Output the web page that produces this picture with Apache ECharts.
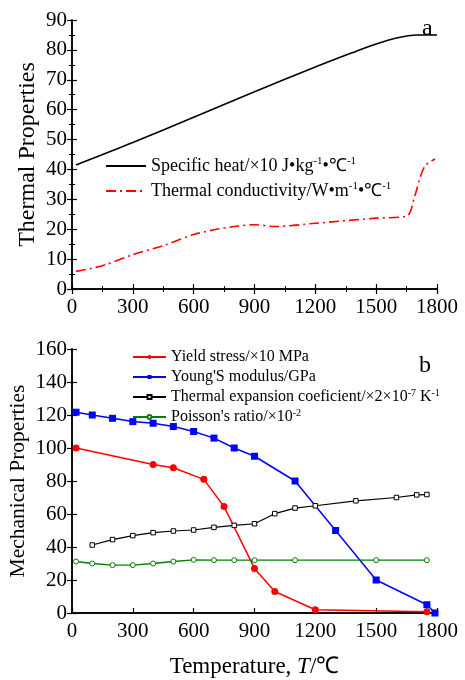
<!DOCTYPE html>
<html><head><meta charset="utf-8">
<script src="https://cdn.jsdelivr.net/npm/echarts@6/dist/echarts.min.js"></script>
<style>html,body{margin:0;padding:0;background:#fff}#c{width:465px;height:680px}</style>
</head><body><div id="c"></div>
<script>
// ---- Data (panel a) ----
const heatT = [20, 300, 600, 900, 1200, 1400, 1500, 1600, 1700, 1800];
const heatV = [41.5, 49, 57.5, 66, 74.3, 79.5, 82, 84, 85, 85];
const condT = [20, 150, 300, 450, 600, 700, 800, 900, 1000, 1200, 1500, 1650, 1690, 1720, 1745, 1790];
const condV = [5.9, 7.8, 11.5, 14.5, 18.2, 19.8, 20.9, 21.5, 20.9, 22, 23.7, 24.4, 31, 38, 41.5, 43.5];
// ---- Data (panel b) ----
const yieldT = [20, 400, 500, 650, 750, 900, 1000, 1200, 1750];
const yieldV = [100, 90, 88, 81, 64.5, 27, 13, 2, 0.8];
const youngT = [20, 100, 200, 300, 400, 500, 600, 700, 800, 900, 1100, 1300, 1500, 1750, 1790];
const youngV = [121.7, 120, 118, 116, 115, 113, 110, 106, 100, 95, 80, 50, 20, 5, 0];
const expT = [100, 200, 300, 400, 500, 600, 700, 800, 900, 1000, 1100, 1200, 1400, 1600, 1700, 1750];
const expV = [41.2, 44.5, 46.9, 48.7, 49.7, 50.3, 51.9, 53.1, 54.1, 60.2, 63.6, 65, 68, 70, 71.6, 71.8];
const poisT = [20, 100, 200, 300, 400, 500, 600, 700, 800, 900, 1100, 1500, 1750];
const poisV = [31.2, 30, 29, 29, 30, 31.2, 32.2, 32, 32, 32, 32, 32, 32];

const zip = (a, b) => a.map((t, i) => [t, b[i]]);
const FONT = '"Liberation Serif","Times New Roman",serif';
const axisLine = {show: true, lineStyle: {color: '#000', width: 1.5}};
const lbl = {fontFamily: FONT, fontSize: 21, color: '#000', formatter: v => String(v)};
const supB = {fontFamily: FONT, fontSize: 10, lineHeight: 10, verticalAlign: 'top', color: '#000'};
const nrmB = {fontFamily: FONT, fontSize: 16, lineHeight: 18, color: '#000'};
const supA = {fontFamily: FONT, fontSize: 11, lineHeight: 11, verticalAlign: 'top', color: '#000'};
const nrmA = {fontFamily: FONT, fontSize: 18, lineHeight: 20, color: '#000'};

function xAx(grid, pos, labels, minor, ticks, extra) {
  return Object.assign({
    type: 'value', gridIndex: grid, position: pos, min: 0, max: 1800, interval: 300,
    axisLine: axisLine,
    axisTick: {show: ticks, inside: true, length: 5, lineStyle: {color: '#000', width: 1.2}},
    minorTick: {show: minor, splitNumber: 2, length: 3, lineStyle: {color: '#000', width: 1}},
    splitLine: {show: false},
    axisLabel: labels ? Object.assign({margin: 8}, lbl) : {show: false}
  }, extra || {});
}
function yAx(grid, pos, max, interval, labels, minor, extra) {
  return Object.assign({
    type: 'value', gridIndex: grid, position: pos, min: 0, max: max, interval: interval,
    axisLine: axisLine,
    axisTick: {show: true, inside: true, length: 5, lineStyle: {color: '#000', width: 1.2}},
    minorTick: {show: minor, splitNumber: 2, length: 3, lineStyle: {color: '#000', width: 1}},
    splitLine: {show: false},
    axisLabel: labels ? Object.assign({margin: 5}, lbl) : {show: false}
  }, extra || {});
}

const chart = echarts.init(document.getElementById('c'));
chart.setOption({
  backgroundColor: '#fff',
  animation: false,
  grid: [
    {left: 72, top: 20, width: 365, height: 269, containLabel: false, outerBoundsMode: 'none'},
    {left: 72, top: 349, width: 365, height: 264, containLabel: false, outerBoundsMode: 'none'}
  ],
  xAxis: [
    xAx(0, 'bottom', true, true, true),
    xAx(0, 'top', false, true, true),
    xAx(1, 'bottom', true, false, true, {
      name: 'Temperature, {i|T}/℃', nameLocation: 'middle', nameGap: 42, nameMoveOverlap: false,
      nameTextStyle: {fontFamily: FONT, fontSize: 23, color: '#000',
        rich: {i: {fontFamily: FONT, fontSize: 23, fontStyle: 'italic', color: '#000'}}}
    }),
    xAx(1, 'top', false, false, false)
  ],
  yAxis: [
    yAx(0, 'left', 90, 10, true, true, {
      name: 'Thermal Properties', nameLocation: 'middle', nameGap: 32, nameMoveOverlap: false,
      nameTextStyle: {fontFamily: FONT, fontSize: 24, color: '#000'}
    }),
    yAx(0, 'right', 90, 10, false, true),
    yAx(1, 'left', 160, 20, true, false, {
      name: 'Mechanical Properties', nameLocation: 'middle', nameGap: 43, nameMoveOverlap: false,
      nameTextStyle: {fontFamily: FONT, fontSize: 21.5, color: '#000'}
    }),
    yAx(1, 'right', 160, 20, false, false)
  ],
  legend: [
    {
      data: ['heat', 'cond'], left: 100, top: 151, orient: 'vertical',
      itemWidth: 40, itemHeight: 14, itemGap: 5,
      itemStyle: {opacity: 0},
      textStyle: {fontFamily: FONT, fontSize: 18, lineHeight: 20, color: '#000', rich: {s: supA, n: nrmA}},
      formatter: function (name) {
        if (name === 'heat') return '{n|Specific heat/×10 J•kg}{s|-1}{n|•℃}{s|-1}';
        return '{n|Thermal conductivity/W•m}{s|-1}{n|•℃}{s|-1}';
      }
    },
    {
      data: ['yield', 'young', 'exp', 'pois'], left: 127, top: 343, orient: 'vertical',
      itemWidth: 33, itemHeight: 5, itemGap: 2,
      textStyle: {fontFamily: FONT, fontSize: 16, lineHeight: 18, color: '#000', rich: {s: supB, n: nrmB}},
      formatter: function (name) {
        if (name === 'yield') return '{n|Yield stress/×10 MPa}';
        if (name === 'young') return "{n|Young'S modulus/GPa}";
        if (name === 'exp') return '{n|Thermal expansion coeficient/×2×10}{s|-7}{n| K}{s|-1}';
        return "{n|Poisson's ratio/×10}{s|-2}";
      }
    }
  ],
  graphic: [
    {type: 'text', left: 422, top: 17, style: {text: 'a', font: '24px ' + FONT, fill: '#000'}},
    {type: 'text', left: 419, top: 354, style: {text: 'b', font: '24px ' + FONT, fill: '#000'}}
  ],
  series: [
    {name: 'heat', type: 'line', xAxisIndex: 0, yAxisIndex: 0, data: zip(heatT, heatV),
      symbol: 'none', smooth: 0.3, lineStyle: {color: '#000', width: 1.6}, itemStyle: {color: '#000'}},
    {name: 'cond', type: 'line', xAxisIndex: 0, yAxisIndex: 0, data: zip(condT, condV),
      symbol: 'none', smooth: 0.3, lineStyle: {color: '#ff0000', width: 1.6, type: [10, 4, 2, 4]}, itemStyle: {color: '#ff0000'}},
    {name: 'yield', type: 'line', xAxisIndex: 2, yAxisIndex: 2, data: zip(yieldT, yieldV),
      symbol: 'circle', symbolSize: 7, lineStyle: {color: '#ff0000', width: 1.5}, itemStyle: {color: '#ff0000'}},
    {name: 'young', type: 'line', xAxisIndex: 2, yAxisIndex: 2, data: zip(youngT, youngV),
      symbol: 'rect', symbolSize: 7, lineStyle: {color: '#0000ff', width: 1.5}, itemStyle: {color: '#0000ff'}},
    {name: 'exp', type: 'line', xAxisIndex: 2, yAxisIndex: 2, data: zip(expT, expV),
      symbol: 'rect', symbolSize: 4.5, lineStyle: {color: '#000', width: 1.2}, itemStyle: {color: '#fff', borderColor: '#000', borderWidth: 1}},
    {name: 'pois', type: 'line', xAxisIndex: 2, yAxisIndex: 2, data: zip(poisT, poisV),
      symbol: 'circle', symbolSize: 5, lineStyle: {color: '#008000', width: 1.3}, itemStyle: {color: '#fff', borderColor: '#008000', borderWidth: 1}}
  ]
});
</script>
</body></html>
